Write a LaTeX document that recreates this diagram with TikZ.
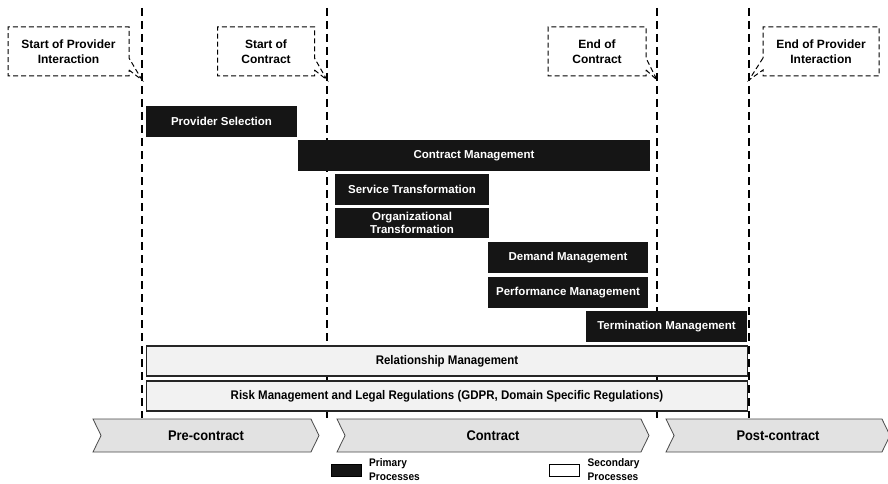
\documentclass[tikz,border=0pt]{standalone}
\usepackage{fontspec}
\setmainfont{Liberation Sans}
\newfontfamily\narrowfont[FakeStretch=0.92]{Liberation Sans}
\usetikzlibrary{positioning,shapes.callouts,shapes.symbols}

\definecolor{procblack}{HTML}{151515}
\definecolor{suppfill}{HTML}{F2F2F2}
\definecolor{phasefill}{HTML}{E2E2E2}
\definecolor{phaseline}{HTML}{4A4A4A}

\tikzset{
  milestone/.style={rectangle callout, draw, dash pattern=on 5pt off 3pt, line width=1pt,
    align=center, inner sep=0pt, callout pointer width=12pt,
    font=\fontsize{12}{15}\selectfont\bfseries},
  procbox/.style={rectangle, fill=procblack, text=white, inner sep=0pt, minimum height=31pt,
    align=center, font=\fontsize{11.5}{13}\selectfont\bfseries},
  suppbox/.style={rectangle, draw=black!85, line width=1.1pt, fill=suppfill, inner sep=0pt,
    minimum width=601pt, minimum height=30pt, font=\narrowfont\fontsize{12.5}{14}\selectfont\bfseries},
  phase/.style={signal, signal from=west, signal to=east, signal pointer angle=128,
    draw=phaseline, line width=0.8pt, fill=phasefill, inner sep=0pt, minimum height=33pt,
    font=\narrowfont\fontsize{14}{16}\selectfont\bfseries},
  boundary/.style={line width=2pt, dash pattern=on 8pt off 5pt},
  legendbox/.style={rectangle, draw=black, line width=1pt, inner sep=0pt, minimum width=30pt, minimum height=12pt},
  legendtext/.style={anchor=west, align=left, inner sep=0pt, font=\narrowfont\fontsize{11}{14}\selectfont\bfseries}
}

\begin{document}
\begin{tikzpicture}[x=1pt,y=-1pt]
\useasboundingbox (0,0) rectangle (888,484);

% phase boundaries
\coordinate (line_a_top) at (142,8);
\coordinate (line_a_bot) at (142,418);
\coordinate (line_b_top) at (327,8);
\coordinate (line_b_bot) at (327,418);
\coordinate (line_c_top) at (657,8);
\coordinate (line_c_bot) at (657,418);
\coordinate (line_d_top) at (749,8);
\coordinate (line_d_bot) at (749,418);
\draw[boundary] (line_a_top) -- (line_a_bot);
\draw[boundary] (line_b_top) -- (line_b_bot);
\draw[boundary] (line_c_top) -- (line_c_bot);
\draw[boundary] (line_d_top) -- (line_d_bot);

% milestones
\node[milestone, minimum width=121pt, minimum height=49pt, callout absolute pointer={(142,80)}] (ms_start_prov) [] at (68.5,51.5) {Start of Provider\\Interaction};
\node[milestone, minimum width=97pt, minimum height=49pt, callout absolute pointer={(327,80)}] (ms_start_contr) [] at (266,51.5) {Start of\\Contract};
\node[milestone, minimum width=98pt, minimum height=49pt, callout absolute pointer={(657,80)}] (ms_end_contr) [] at (597,51.5) {End of\\Contract};
\node[milestone, minimum width=116pt, minimum height=49pt, callout absolute pointer={(749,80)}] (ms_end_prov) [] at (821,51.5) {End of Provider\\Interaction};

% primary processes
\node[procbox, minimum width=151pt] (proc_selection) [] at (221.5,121.5) {Provider Selection};
\node[procbox, minimum width=352pt] (proc_contract) [] at (474,155.5) {Contract Management};
\node[procbox, minimum width=154pt] (proc_service) [] at (412,189.5) {Service Transformation};
\node[procbox, minimum width=154pt, minimum height=30pt] (proc_organization) [] at (412,223) {Organizational\\Transformation};
\node[procbox, minimum width=160pt] (proc_demand) [] at (568,257.5) {Demand Management};
\node[procbox, minimum width=160pt] (proc_performance) [] at (568,292.5) {Performance Management};
\node[procbox, minimum width=161pt] (proc_termination) [] at (666.5,326.5) {Termination Management};

% secondary processes
\node[suppbox] (supp_relationship) [] at (447,361) {Relationship Management};
\node[suppbox] (supp_risk) [] at (447,396) {Risk Management and Legal Regulations (GDPR, Domain Specific Regulations)};

% phases
\node[phase, minimum width=226pt] (phase_pre) [] at (206,435.5) {Pre-contract};
\node[phase, minimum width=312pt] (phase_contract) [] at (493,435.5) {Contract};
\node[phase, minimum width=224pt] (phase_post) [] at (778,435.5) {Post-contract};

% legend
\node[legendbox, fill=procblack] (legend_primary) [] at (346.5,470) {};
\node[legendtext] (legend_primary_text) [right=7pt of legend_primary] {Primary\\Processes};
\node[legendbox, fill=white] (legend_secondary) [] at (564,470) {};
\node[legendtext] (legend_secondary_text) [right=8pt of legend_secondary] {Secondary\\Processes};
\end{tikzpicture}
\end{document}
